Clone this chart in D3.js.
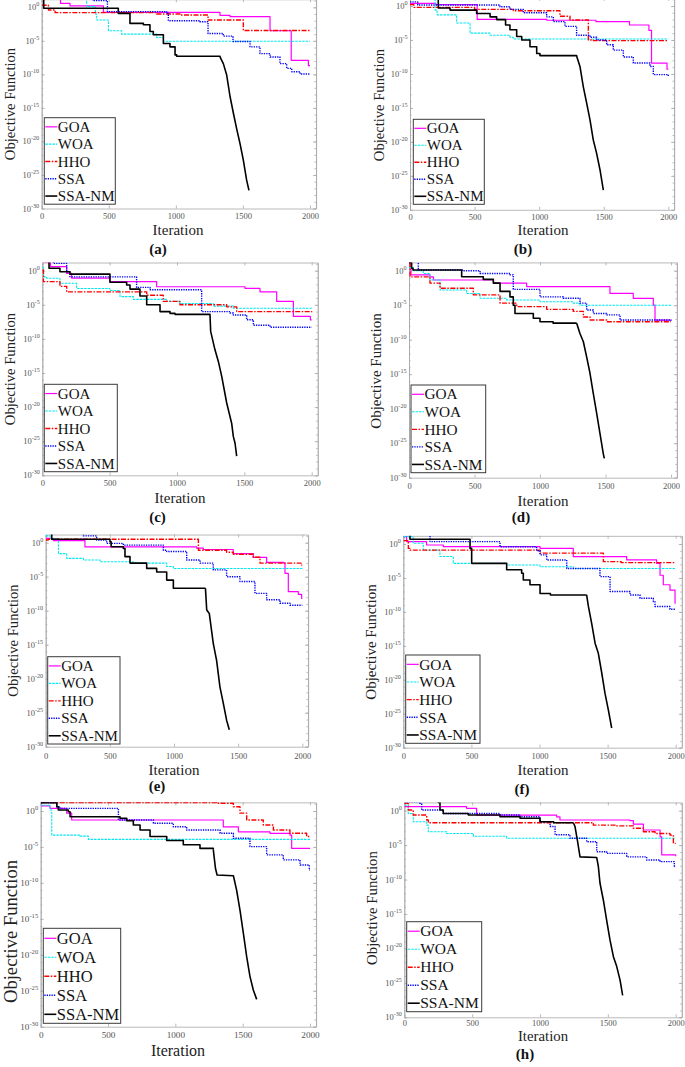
<!DOCTYPE html>
<html><head><meta charset="utf-8">
<script src="https://cdn.jsdelivr.net/npm/d3@7"></script>
<style>body{margin:0;background:#fff}svg{display:block}</style>
</head><body>
<svg id="c" width="685" height="1067"></svg>
<script>
// ---- categories / ticks ----
const seriesNames = ["GOA", "WOA", "HHO", "SSA", "SSA-NM"];
const panelTags = ["(a)", "(b)", "(c)", "(d)", "(e)", "(f)", "", "(h)"];
const xTickValues = [0, 500, 1000, 1500, 2000];
const yTickExponents = [0, -5, -10, -15, -20, -25, -30];
const xLabel = "Iteration";
const yLabel = "Objective Function";

// ---- series values: [iteration, log10(objective)] ----
// (a)
const goaA = [[0,1.2],[140,0.6],[211,0.2],[460,-0.75],[1329,-1.2],[1404,-1.4],[1702,-3.5],[1860,-7.9],[1988,-8.7],[2000,-8.7]];
const woaA = [[0,1.5],[335,0.1],[400,-1],[410,-1.9],[497,-3.5],[596,-4],[857,-4.5],[907,-5.07],[2000,-5.07]];
const hhoA = [[0,0.3],[50,-0.4],[100,-0.8],[857,-1],[1031,-1.15],[1240,-1.9],[1503,-3.45],[2000,-3.45]];
const ssaA = [[0,1.5],[380,1],[490,-0.65],[932,-0.9],[944,-2.0],[1180,-2.15],[1240,-3.9],[1354,-4.3],[1426,-5.1],[1553,-5.9],[1627,-6.9],[1702,-7.4],[1776,-8.4],[1826,-9.1],[1864,-9.6],[1926,-9.95],[2000,-10]];
const nmA = [[0,1.2],[15,-0.15],[571,-0.9],[658,-2.4],[758,-2.6],[807,-3.6],[832,-4.1],[907,-5.4],[956,-5.9],[994,-7.1],[1006,-7.3],[1329,-7.4]];
const nmDropA = [[1329,-7.4],[1354,-8.4],[1379,-10.1],[1404,-13.3],[1429,-15.8],[1453,-18.1],[1478,-20.3],[1503,-22.8],[1528,-25.8],[1545,-27.3]];
// (b)
const goaB = [[0,0.4],[200,0.2],[520,-1.96],[1060,-2.1],[1440,-2.3],[1700,-2.8],[1850,-3.6],[1870,-8.4],[1990,-9.3],[2000,-9.3]];
const woaB = [[0,1.5],[194,-0.6],[210,-1.3],[361,-2.5],[465,-4],[619,-4.3],[774,-4.6],[800,-4.85],[2000,-4.85]];
const hhoB = [[0,0.2],[30,-0.2],[500,-0.5],[800,-0.7],[1161,-1.5],[1239,-2.05],[1381,-5.0],[1420,-5.1],[2000,-5.1]];
const ssaB = [[0,0.6],[60,0.15],[697,-0.1],[774,-0.5],[877,-1.0],[1058,-1.6],[1110,-2.3],[1200,-3.0],[1290,-4.3],[1394,-4.6],[1445,-5.0],[1523,-5.7],[1574,-6.5],[1652,-7.5],[1729,-8.4],[1858,-8.9],[1884,-10.1],[2000,-10.3]];
const nmB = [[0,1.5],[219,-0.3],[310,-0.6],[516,-1.1],[620,-1.6],[671,-2.0],[740,-2.8],[774,-3.5],[826,-4.5],[865,-5.0],[929,-6.0],[981,-7.0],[1006,-7.3],[1290,-7.35]];
const nmDropB = [[1290,-7.35],[1316,-8.9],[1342,-11.9],[1368,-14.3],[1394,-16.8],[1419,-19.7],[1445,-21.7],[1471,-24.1],[1497,-27.1]];
// (c)
const goaC = [[0,1.3],[60,0.6],[181,-0.4],[218,-1.1],[502,-1.6],[849,-2.35],[1505,-2.6],[1616,-3.1],[1740,-4.5],[1864,-6.7],[1990,-7.2],[2000,-7.2]];
const woaC = [[0,0.5],[10,-0.9],[32,-1.1],[131,-1.85],[255,-2.6],[502,-2.9],[577,-3.8],[676,-4.2],[923,-4.5],[1022,-4.8],[1270,-5.2],[1418,-5.5],[2000,-5.65]];
const hhoC = [[0,0.1],[8,-1.6],[131,-2.3],[181,-3.1],[775,-3.6],[898,-4.5],[1022,-5.0],[1369,-5.3],[1443,-6.0],[2000,-6.1]];
const ssaC = [[0,1.5],[82,1.07],[181,-0.15],[205,-0.9],[700,-2.45],[800,-2.8],[1183,-6.0],[1394,-6.2],[1418,-6.5],[1517,-7.2],[1567,-8.0],[1691,-8.3],[2000,-8.3]];
const nmC = [[0,1.5],[50,0.35],[131,-0.15],[205,-0.5],[502,-1.7],[626,-2.1],[651,-2.7],[725,-3.7],[775,-5.0],[874,-6.0],[948,-6.25],[985,-6.4],[1245,-6.5]];
const nmDropC = [[1245,-6.5],[1250,-8.9],[1282,-11.6],[1307,-13.3],[1332,-15.5],[1369,-19.4],[1406,-22.4],[1418,-24.3],[1431,-25.3],[1443,-27.2]];
// (d)
const goaD = [[0,1.3],[15,-0.6],[160,-0.9],[186,-1.35],[644,-1.8],[898,-2.3],[1534,-3.3],[1712,-4.0],[1865,-5.0],[1878,-7.15],[2000,-7.15]];
const woaD = [[0,0.5],[33,0],[109,-0.4],[160,-1.35],[237,-2.8],[440,-3.3],[542,-4.0],[746,-4.25],[1000,-4.5],[1254,-4.7],[1305,-5.0],[2000,-5.07]];
const hhoD = [[0,1.1],[8,-0.9],[160,-1.8],[237,-2.55],[491,-3.5],[695,-4.7],[822,-5.2],[1051,-5.6],[1254,-5.9],[1331,-6.7],[1382,-7.15],[1509,-7.4],[2000,-7.4]];
const ssaD = [[0,1.5],[71,0.1],[415,0],[542,-0.4],[771,-0.6],[796,-2.7],[1000,-3.8],[1178,-4.0],[1305,-4.7],[1356,-5.7],[1407,-6.2],[1509,-6.4],[1611,-7.15],[2000,-7.25]];
const nmD = [[0,1.2],[20,0.35],[30,0.1],[402,-0.87],[567,-1.25],[644,-1.8],[695,-3.0],[771,-3.8],[796,-5.0],[809,-6.2],[949,-6.9],[1000,-7.4],[1100,-7.6],[1280,-7.6]];
const nmDropD = [[1280,-7.6],[1305,-9.1],[1331,-10.3],[1356,-12.5],[1382,-14.9],[1407,-17.8],[1433,-20.7],[1458,-23.6],[1483,-26.5],[1491,-27.2]];
// (e)
const goaE = [[0,0.64],[60,0.3],[306,-0.6],[1177,-0.8],[1229,-1.0],[1462,-1.6],[1618,-2.15],[1722,-2.9],[1855,-3.0],[1865,-4.5],[1891,-7.2],[1969,-7.6],[1995,-8.2],[2000,-8.2]];
const woaE = [[0,1.0],[35,0.6],[99,-1.6],[164,-2.3],[294,-2.55],[423,-2.8],[683,-3.0],[943,-3.5],[995,-3.8],[2000,-3.8]];
const hhoE = [[0,0.4],[20,0.5],[1190,-1.1],[1410,-1.4],[1462,-1.7],[1618,-2.15],[1670,-3.0],[1990,-3.3],[2000,-3.3]];
const ssaE = [[0,1.5],[294,1.0],[397,0.4],[475,-0.1],[605,-0.35],[917,-1.1],[943,-1.3],[1099,-2.55],[1203,-3.0],[1306,-4.0],[1410,-5.0],[1514,-5.7],[1631,-7.45],[1722,-8.4],[1826,-8.9],[1904,-9.2],[2000,-9.2]];
const nmE = [[0,1.5],[47,0.5],[501,0.15],[510,-0.6],[605,-0.85],[618,-2.05],[657,-3.0],[787,-3.77],[865,-4.3],[943,-5.5],[995,-6.7],[1245,-6.7]];
const nmDropE = [[1245,-6.7],[1255,-9.9],[1275,-10.4],[1306,-14.8],[1332,-17.3],[1358,-21.2],[1384,-23.6],[1410,-26.1],[1431,-27.5]];
// (f)
const goaF = [[0,1.08],[24,0.35],[171,-0.15],[294,-0.4],[1004,-0.65],[1248,-1.85],[1640,-2.35],[1860,-2.85],[1885,-4.6],[1909,-6.0],[1958,-6.8],[1995,-8.7],[2000,-8.7]];
const woaF = [[0,1.08],[73,0.1],[147,-0.9],[269,-1.85],[367,-2.85],[759,-3.1],[1004,-3.35],[1248,-3.6],[2000,-3.6]];
const hhoF = [[0,0.5],[37,-0.65],[49,-0.9],[1004,-1.35],[1469,-2.6],[1600,-2.75],[2000,-2.75]];
const ssaF = [[0,1.5],[196,0.35],[710,-0.4],[979,-1.0],[1004,-1.6],[1053,-2.35],[1200,-3.6],[1444,-4.8],[1518,-7.0],[1665,-7.5],[1738,-8.0],[1836,-8.5],[1848,-9.2],[1958,-9.6],[2000,-9.6]];
const nmF = [[0,1.5],[49,0.7],[490,-0.65],[502,-2.85],[759,-3.8],[869,-4.3],[881,-5.3],[930,-6.0],[1004,-7.3],[1080,-7.5],[1346,-7.5]];
const nmDropF = [[1346,-7.5],[1359,-9.2],[1383,-11.7],[1408,-14.6],[1432,-16.1],[1457,-19.0],[1481,-22.0],[1505,-24.4],[1530,-27.1]];
// (g)
const goaG = [[0,0.7],[69,0.37],[193,-0.3],[230,-1.25],[1356,-2.2],[1468,-2.9],[1703,-3.1],[1851,-3.35],[1864,-5.2],[2000,-5.2]];
const woaG = [[0,0.8],[69,0.14],[82,-3.35],[292,-3.5],[354,-3.95],[2000,-3.95]];
const hhoG = [[0,1.16],[1307,1.07],[1431,0.6],[1480,-0.3],[1530,-1.25],[1653,-1.95],[1728,-2.65],[1851,-3.1],[1975,-3.55],[2000,-3.55]];
const ssaG = [[0,1.16],[119,0.6],[144,0.37],[577,-1.25],[837,-1.7],[985,-2.2],[1084,-2.65],[1332,-3.1],[1431,-3.8],[1554,-4.95],[1678,-6.1],[1802,-6.8],[1926,-7.5],[1995,-8.2],[2000,-8.2]];
const nmG = [[0,1.16],[120,0.6],[131,0.14],[205,-0.1],[218,-0.8],[589,-1.0],[639,-1.35],[688,-1.95],[738,-2.65],[812,-3.55],[936,-4.1],[1059,-4.7],[1183,-5.2],[1282,-5.4]];
const nmDropG = [[1282,-5.4],[1298,-8.0],[1310,-8.9],[1431,-9.0],[1455,-11.0],[1480,-13.8],[1505,-17.0],[1530,-20.3],[1554,-23.0],[1579,-24.9],[1604,-26.2]];
// (h)
const goaH = [[0,0.58],[459,0.34],[533,-0.63],[1123,-0.9],[1147,-1.35],[1663,-1.45],[1688,-1.95],[1762,-2.8],[1885,-3.8],[1897,-6.4],[2000,-6.6]];
const woaH = [[0,0.8],[29,-0.4],[66,-1.6],[165,-2.1],[177,-3.05],[312,-3.3],[509,-3.7],[754,-4.0],[2000,-4.0]];
const hhoH = [[0,1.06],[29,0.1],[66,-0.63],[165,-1.35],[177,-1.75],[1393,-2.1],[1565,-2.2],[1688,-2.55],[1762,-3.05],[1848,-3.3],[1958,-3.55],[1983,-4.75],[2000,-4.75]];
const ssaH = [[0,1.3],[115,1.06],[128,0.1],[287,-0.4],[705,-0.63],[853,-0.87],[1000,-1.6],[1074,-2.3],[1111,-3.5],[1221,-4.0],[1344,-4.5],[1418,-5.95],[1491,-6.2],[1639,-6.7],[1786,-7.15],[1885,-7.4],[1990,-8.1],[2000,-8.1]];
const nmH = [[0,1.5],[251,1.2],[263,0.1],[287,-0.4],[472,-0.63],[705,-0.87],[853,-1.1],[1000,-1.6],[1100,-1.75],[1246,-1.75]];
const nmDropH = [[1246,-1.75],[1258,-2.3],[1275,-4.25],[1295,-6.7],[1418,-6.8],[1430,-8.1],[1442,-10.5],[1467,-13.0],[1491,-15.9],[1516,-18.8],[1541,-21.2],[1565,-22.6],[1590,-24.6],[1609,-26.8]];

const panelData = [
  [goaA, woaA, hhoA, ssaA, nmA, nmDropA],
  [goaB, woaB, hhoB, ssaB, nmB, nmDropB],
  [goaC, woaC, hhoC, ssaC, nmC, nmDropC],
  [goaD, woaD, hhoD, ssaD, nmD, nmDropD],
  [goaE, woaE, hhoE, ssaE, nmE, nmDropE],
  [goaF, woaF, hhoF, ssaF, nmF, nmDropF],
  [goaG, woaG, hhoG, ssaG, nmG, nmDropG],
  [goaH, woaH, hhoH, ssaH, nmH, nmDropH]
];

// ---- layout (positions / styles) ----
const layout = [
  {x0:41.7, x2000:310,   y0:7.3,   y30:208.5,  tp:4.8, lg:[44.3,117.7,71,86.5,15],  yl:[14.5,104,14.6], xl:[178,235,15], tg:[158,254]},
  {x0:410,  x2000:668.3, y0:6,     y30:209.8,  tp:4.6, lg:[413.3,119.3,71,85,15],   yl:[384,105,14.6],  xl:[543,235,15], tg:[523,254]},
  {x0:42.3, x2000:311.7, y0:270.7, y30:475.3,  tp:4.3, lg:[44.3,384.3,73,87.4,15],  yl:[14.5,369,14.6], xl:[180,503,15], tg:[157.5,522]},
  {x0:409,  x2000:671,   y0:270.7, y30:477.7,  tp:5.0, lg:[411,385,74.7,87.7,15.3], yl:[381,371,15],    xl:[543,506,15], tg:[521,522]},
  {x0:45.7, x2000:302.3, y0:542.7, y30:746.7,  tp:6.0, lg:[47.7,656.7,72.3,87.3,15],yl:[17.5,640.5,14.6],xl:[174,775,15], tg:[157,791]},
  {x0:403.3,x2000:675.7, y0:544,   y30:747.7,  tp:5.0, lg:[405.7,655,74.3,88.3,15.3],yl:[376,642,15],   xl:[543,775,15], tg:[522,794]},
  {x0:40.7, x2000:310,   y0:811,   y30:1026.7, tp:4.6, lg:[43.3,928.3,77.4,95,16.5],yl:[16.5,931.5,18.6], xl:[178,1056,16], tg:null},
  {x0:404.3,x2000:675.7, y0:810.7, y30:1017.3, tp:2.5, lg:[406.7,921.7,75,90,15.5], yl:[377,908,14.8],  xl:[543,1041,14.8], tg:[525,1059]}
];

const styles = [
  {color:"#ff00ff", width:1.2, dash:null},
  {color:"#00e8f0", width:1.1, dash:"2.5,1"},
  {color:"#ff0000", width:1.4, dash:"5,1.5,1.5,1.5"},
  {color:"#0000ff", width:1.4, dash:"1.3,1.1"},
  {color:"#000000", width:1.6, dash:null}
];

const FONT = "'Liberation Serif','Times New Roman',serif";
const svg = d3.select("#c");
const AXIS_COL = "#a8a8a8", TICK_TXT = "#555";

layout.forEach((L, pi) => {
  const xMax = 2045, yTopExp = 1.2;
  const pxPerIt = (L.x2000 - L.x0) / 2000;
  const x = d3.scaleLinear().domain([0, xMax]).range([L.x0, L.x0 + pxPerIt * xMax]);
  const dec = (L.y30 - L.y0) / 30;
  const y = d3.scaleLog().domain([1e-30, Math.pow(10, yTopExp)]).range([L.y30, L.y0 - yTopExp * dec]);
  const [xl, xr] = x.range(), [yb, yt] = y.range();
  const g = svg.append("g");

  g.append("rect").attr("x", xl).attr("y", yt).attr("width", xr - xl).attr("height", yb - yt).attr("fill", "#fff");

  const cid = "clip" + pi;
  g.append("clipPath").attr("id", cid).append("rect")
    .attr("x", xl).attr("y", yt).attr("width", xr - xl).attr("height", yb - yt);

  const tickFs = pi === 6 ? 9.2 : 8.5;
  const ax = (gen) => g.append("g").call(gen);
  const bottom = ax(d3.axisBottom(x).tickValues(xTickValues).tickSizeInner(-3).tickSizeOuter(0).tickPadding(L.tp).tickFormat(d3.format("d")))
    .attr("transform", `translate(0,${yb})`);
  const top = ax(d3.axisTop(x).tickValues(xTickValues).tickSizeInner(-3).tickSizeOuter(0).tickFormat(""))
    .attr("transform", `translate(0,${yt})`);
  const minorVals = d3.range(-30, 2).map(k => Math.pow(10, k));
  const majorVals = yTickExponents.map(k => Math.pow(10, k));
  const leftMinor = ax(d3.axisLeft(y).tickValues(minorVals).tickSizeInner(-1.6).tickSizeOuter(0).tickFormat("")).attr("transform", `translate(${xl},0)`);
  const rightMinor = ax(d3.axisRight(y).tickValues(minorVals).tickSizeInner(-1.6).tickSizeOuter(0).tickFormat("")).attr("transform", `translate(${xr},0)`);
  const left = ax(d3.axisLeft(y).tickValues(majorVals).tickSizeInner(-3).tickSizeOuter(0).tickFormat(""))
    .attr("transform", `translate(${xl},0)`);
  const right = ax(d3.axisRight(y).tickValues(majorVals).tickSizeInner(-3).tickSizeOuter(0).tickFormat(""))
    .attr("transform", `translate(${xr},0)`);
  [bottom, top, left, right, leftMinor, rightMinor].forEach(a => {
    a.selectAll("path.domain").attr("stroke", AXIS_COL).attr("stroke-width", 0.8);
    a.selectAll(".tick line").attr("stroke", AXIS_COL).attr("stroke-width", 0.8);
  });
  bottom.selectAll(".tick text").attr("font-family", FONT).attr("font-size", tickFs).attr("fill", TICK_TXT);

  yTickExponents.forEach(k => {
    const t = g.append("text").attr("x", xl - 2.5).attr("y", y(Math.pow(10, k)) + 3)
      .attr("text-anchor", "end").attr("font-family", FONT).attr("fill", TICK_TXT).attr("font-size", tickFs);
    t.append("tspan").text("10");
    t.append("tspan").attr("font-size", tickFs * 0.72).attr("dy", -4).text(k === 0 ? "0" : "-" + Math.abs(k));
  });

  const [goa, woa, hho, ssa, nm, nmDrop] = panelData[pi];
  const lineStep = d3.line().x(d => x(d[0])).y(d => y(Math.pow(10, d[1]))).curve(d3.curveStepAfter);
  const lineLin = d3.line().x(d => x(d[0])).y(d => y(Math.pow(10, d[1])));
  const plot = g.append("g").attr("clip-path", `url(#${cid})`);
  const draw = (data, st, gen) => plot.append("path").attr("d", gen(data)).attr("fill", "none")
    .attr("stroke", st.color).attr("stroke-width", st.width)
    .attr("stroke-dasharray", st.dash).attr("stroke-linejoin", "round");
  draw(goa, styles[0], lineStep);
  draw(woa, styles[1], lineStep);
  draw(hho, styles[2], lineStep);
  draw(ssa, styles[3], lineStep);
  draw(nm, styles[4], lineStep);
  draw(nmDrop, styles[4], lineLin);

  const [lx, ly, lw, lh, lfs] = L.lg;
  const lg = g.append("g");
  lg.append("rect").attr("x", lx).attr("y", ly).attr("width", lw).attr("height", lh)
    .attr("fill", "#fff").attr("stroke", "#3a3a3a").attr("stroke-width", 1);
  const rowH = lh / 5;
  seriesNames.forEach((name, i) => {
    const cy = ly + rowH * (i + 0.5) + 0.5;
    lg.append("line").attr("x1", lx + 1).attr("x2", lx + 13).attr("y1", cy).attr("y2", cy)
      .attr("stroke", styles[i].color).attr("stroke-width", styles[i].width).attr("stroke-dasharray", styles[i].dash);
    lg.append("text").attr("x", lx + 13.5).attr("y", cy + lfs * 0.34)
      .attr("font-family", FONT).attr("font-size", lfs).attr("fill", "#111").text(name);
  });

  g.append("text").attr("x", L.xl[0]).attr("y", L.xl[1]).attr("text-anchor", "middle")
    .attr("font-family", FONT).attr("font-size", L.xl[2]).attr("fill", "#222").text(xLabel);
  g.append("text").attr("transform", `translate(${L.yl[0]},${L.yl[1]}) rotate(-90)`).attr("text-anchor", "middle")
    .attr("font-family", FONT).attr("font-size", L.yl[2]).attr("fill", "#222").text(yLabel);
  if (L.tg && panelTags[pi]) {
    g.append("text").attr("x", L.tg[0]).attr("y", L.tg[1]).attr("text-anchor", "middle")
      .attr("font-family", FONT).attr("font-size", 15).attr("font-weight", "bold").attr("fill", "#111").text(panelTags[pi]);
  }
});
</script>
</body></html>
